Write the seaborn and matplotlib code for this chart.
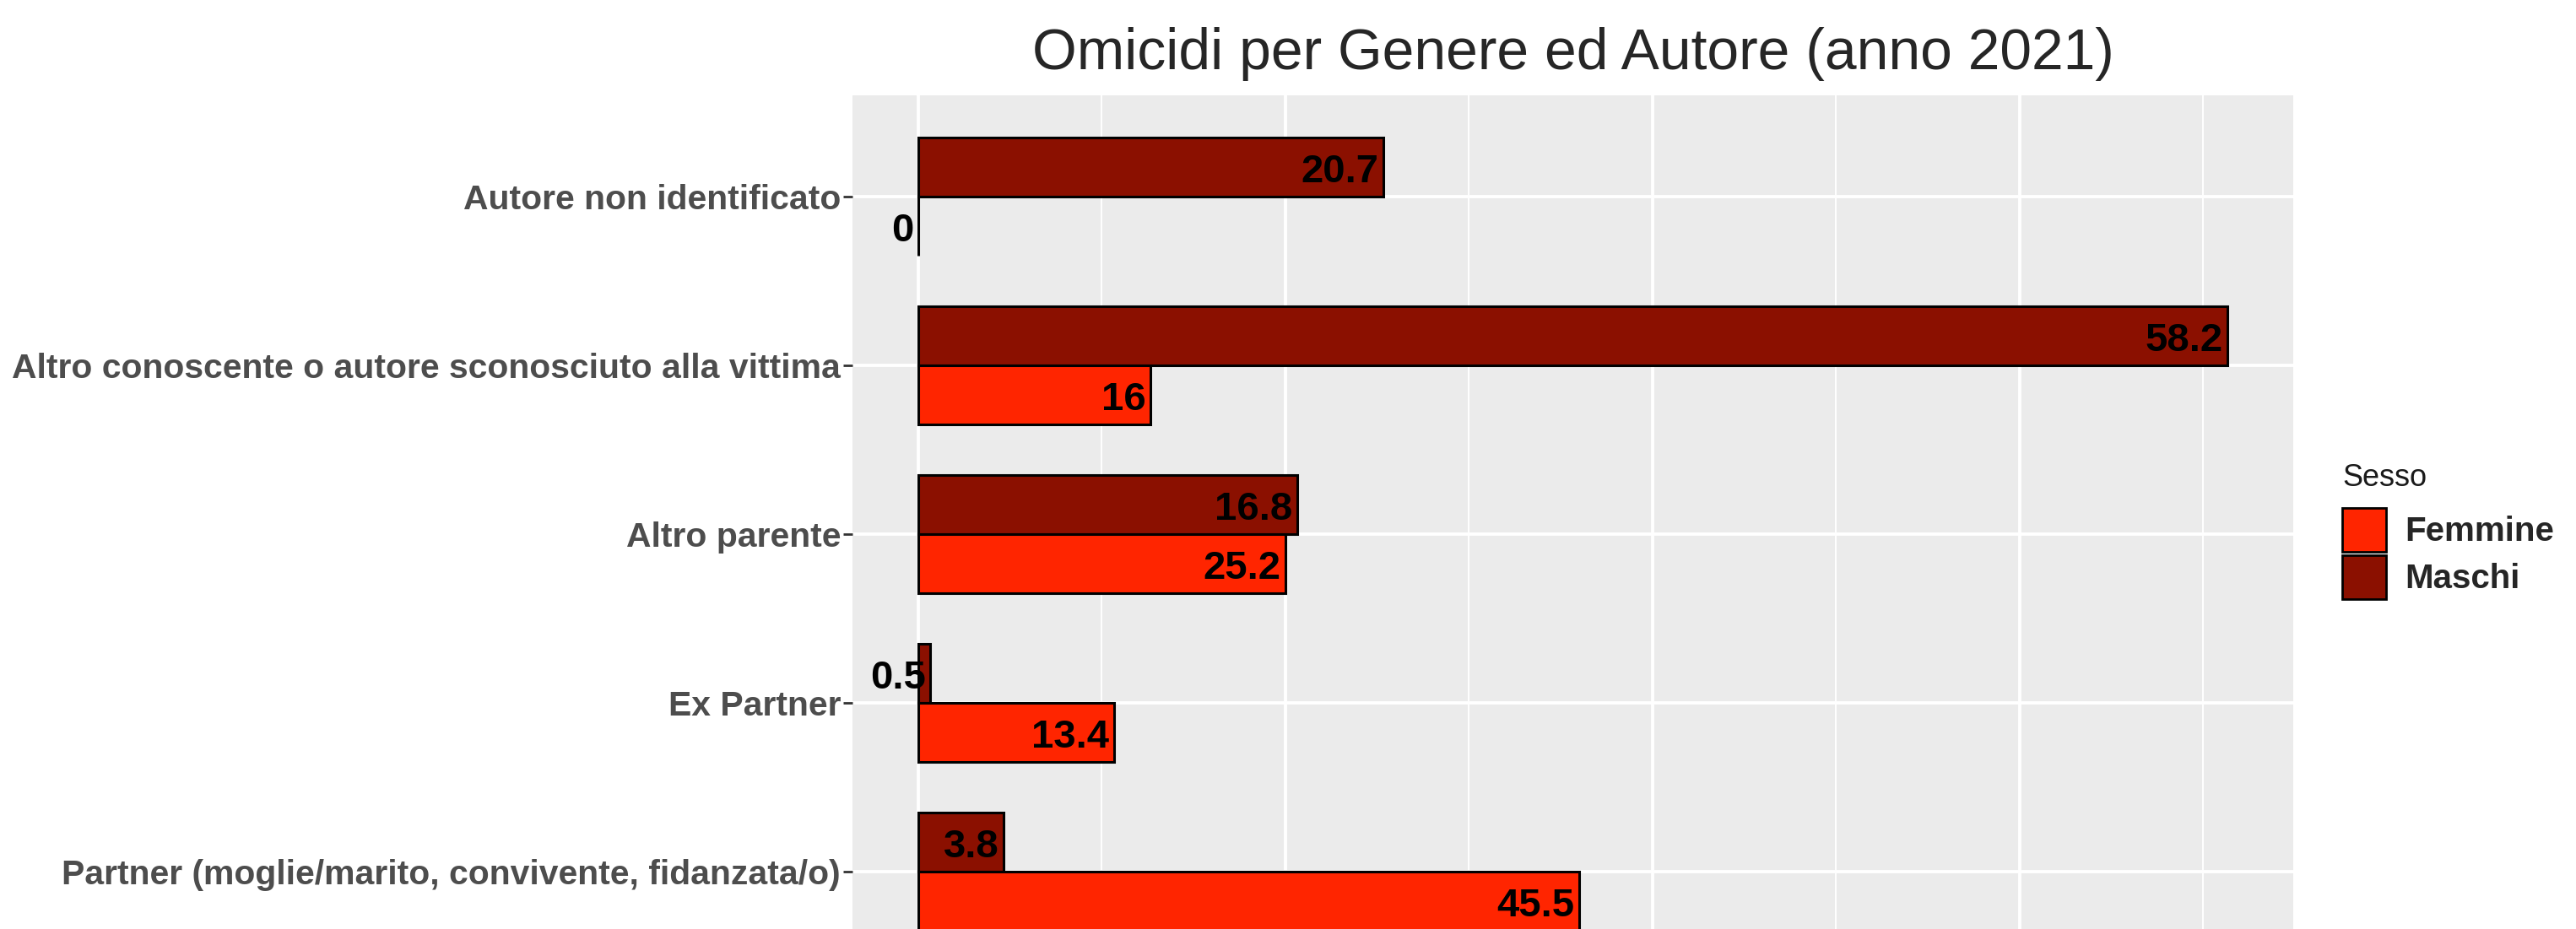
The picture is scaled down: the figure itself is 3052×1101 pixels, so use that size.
import matplotlib
matplotlib.use("Agg")
import matplotlib.pyplot as plt
from matplotlib.patches import Patch
from matplotlib.ticker import MultipleLocator
import pandas as pd
import seaborn as sns

# data (bars = counts, labels = % within each sex)
autori = [
    "Autore non identificato",
    "Altro conoscente o autore sconosciuto alla vittima",
    "Altro parente",
    "Ex Partner",
    "Partner (moglie/marito, convivente, fidanzata/o)",
]
maschi_n = [38, 107, 31, 1, 7]
femmine_n = [0, 19, 30, 16, 54]
maschi_pct = [20.7, 58.2, 16.8, 0.5, 3.8]
femmine_pct = [0, 16, 25.2, 13.4, 45.5]
sessi = ["Femmine", "Maschi"]
colori = {"Femmine": "#FF2500", "Maschi": "#8B1000"}

df = pd.DataFrame({
    "Autore": autori * 2,
    "n": maschi_n + femmine_n,
    "Sesso": ["Maschi"] * len(autori) + ["Femmine"] * len(autori),
})

sns.set_theme(style="darkgrid", rc={"axes.facecolor": "#EBEBEB", "grid.color": "white"})
plt.rcParams["font.family"] = ["Liberation Sans", "DejaVu Sans"]

W, H = 3052, 1101
fig = plt.figure(figsize=(W / 100, H / 100), dpi=100)
ax = fig.add_axes([1010 / W, -52 / H, 1707 / W, 1040 / H])

sns.barplot(data=df, x="n", y="Autore", hue="Sesso", order=autori,
            hue_order=["Maschi", "Femmine"], palette=colori, width=0.7,
            saturation=1, edgecolor="black", linewidth=2.2, errorbar=None,
            legend=False, ax=ax)

for cont, pct in zip(ax.containers, [maschi_pct, femmine_pct]):
    txts = ax.bar_label(cont, labels=[f"{v:g}" for v in pct], padding=-4,
                        fontsize=34, fontweight="bold", color="black")
    for t in txts:
        t.set_ha("right")
        t.xyann = (t.xyann[0], -4)

ax.set_xlim(-5.35, 112.35)
ax.set_ylim(4.6, -0.6)
ax.xaxis.set_major_locator(MultipleLocator(30))
ax.xaxis.set_minor_locator(MultipleLocator(15))
ax.grid(which="major", color="white", linewidth=2.8)
ax.grid(which="minor", axis="x", color="white", linewidth=1.4)
ax.set_axisbelow(True)
for s in ax.spines.values():
    s.set_visible(False)
ax.set_xlabel("")
ax.set_ylabel("")
ax.tick_params(axis="x", which="both", length=0, labelbottom=False)
ax.tick_params(axis="y", length=8, width=2, color="#333333", pad=2,
               left=True, labelsize=29.4, labelcolor="#4D4D4D")
for lab in ax.get_yticklabels():
    lab.set_fontweight("bold")
    lab.set_y(lab.get_position()[1])

ax.set_title("Omicidi per Genere ed Autore (anno 2021)", fontsize=48.8, pad=22)

# legend: title as plain text, keys below it
fig.text(2775 / W, 1 - 566 / H, "Sesso", fontsize=26, color="#1A1A1A",
         ha="left", va="center")
handles = [Patch(facecolor=colori[s], edgecolor="black", linewidth=2) for s in sessi]
leg = fig.legend(handles, sessi, loc="upper left",
                 bbox_to_anchor=(2775 / W, 1 - 602 / H), frameon=False,
                 prop={"size": 29, "weight": "bold"}, borderpad=0,
                 borderaxespad=0, handlelength=1.3, handleheight=1.6,
                 handletextpad=0.55, labelspacing=0.1)

fig.savefig("out.png", dpi=100)
